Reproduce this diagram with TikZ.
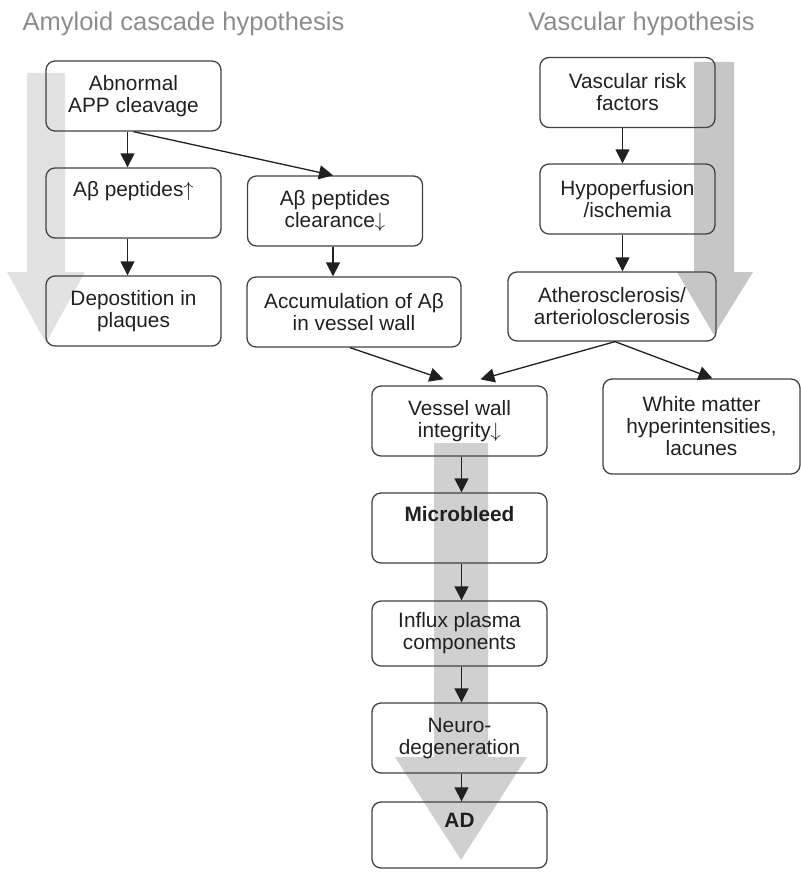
\documentclass[tikz,border=0pt]{standalone}
\usepackage{fontspec}
\setmainfont{Liberation Sans}
\usepackage{xcolor}
\usepackage{tikz}
\usetikzlibrary{positioning,arrows.meta,backgrounds}
\definecolor{cText}{HTML}{231F20}
\definecolor{cTitle}{HTML}{8C8C8C}
\definecolor{cLight}{HTML}{E2E2E3}
\definecolor{cMid}{HTML}{D0D0D1}
\definecolor{cDark}{HTML}{C6C6C7}
\newcommand{\up}{$\uparrow$}
\newcommand{\down}{$\downarrow$}

\begin{document}
\begin{tikzpicture}[
  x=1pt,y=-1pt,
  font=\fontsize{20.8}{22}\selectfont,
  box/.style={draw=cText!85,line width=1.3pt,rounded corners=9pt,minimum width=175pt,
    minimum height=70pt,inner sep=2pt,align=center,text=cText},
  ttl/.style={anchor=base,text=cTitle,font=\fontsize{25.5}{28}\selectfont},
  ar/.style={-{Triangle[length=14pt,width=14pt]},line width=1.3pt,cText}
]
\useasboundingbox (0,0) rectangle (800,872);
% titles
\node[ttl] (tA) at (183.5,31) {Amyloid cascade hypothesis};
\node[ttl] (tV) at (641.5,31) {Vascular hypothesis};
% amyloid side
\node[box] (abn) at (133.5,96) {Abnormal\\APP cleavage};
\node[box] (pep) at (133.5,203) {Aβ peptides\up\\\strut};
\node[box] (dep) at (133.5,311) {Depostition in\\plaques};
\node[box] (clr) at (335,211) {Aβ peptides\\clearance\down};
\node[box,minimum width=214pt] (acc) at (354,312) {Accumulation of Aβ\\in vessel wall};
% vascular side
\node[box] (vrf) at (627.5,92.5) {Vascular risk\\factors};
\node[box] (hyp) at (627.5,199) {Hypoperfusion\\/ischemia\hspace{24pt}};
\node[box,minimum width=208pt,minimum height=69pt] (ath) at (612,306.5) {Atherosclerosis/\\arteriolosclerosis};
\node[box,minimum width=197pt,minimum height=95pt] (wmh) at (701.5,426.5) {White matter\\hyperintensities,\\lacunes};
% common path
\node[box] (vwi) at (459.5,421) {Vessel wall\\integrity\down};
\node[box] (mic) at (459.5,528) {\textbf{Microbleed}\\\strut};
\node[box,minimum height=65pt] (inf) at (459.5,633.5) {Influx plasma\\components};
\node[box] (neu) at (459.5,738) {Neuro-\\degeneration};
\node[box,minimum height=66pt] (ad) at (459.5,835) {\textbf{AD}\\\strut};
% arrows
\draw[ar] ([xshift=-6pt]abn.south) -- ([xshift=-6pt]pep.north);
\draw[ar] ([xshift=-6pt]pep.south) -- ([xshift=-6pt]dep.north);
\draw[ar] (abn.south) -- ([xshift=-2pt]clr.north);
\draw[ar] ([xshift=-2pt]clr.south) -- ([xshift=-2pt]clr.south |- acc.north);
\draw[ar] ([xshift=-4pt]acc.south) -- ([xshift=-16pt,yshift=6pt]vwi.north);
\draw[ar] ([xshift=3pt]ath.south) -- ([xshift=21pt,yshift=6pt]vwi.north);
\draw[ar] ([xshift=3pt]ath.south) -- ([xshift=11pt]wmh.north);
\draw[ar] ([xshift=-5pt]vrf.south) -- ([xshift=-5pt]hyp.north);
\draw[ar] ([xshift=-5pt]hyp.south) -- ([xshift=-5pt]hyp.south |- ath.north);
\draw[ar] ([xshift=2pt]vwi.south) -- ([xshift=2pt]mic.north);
\draw[ar] ([xshift=2pt]mic.south) -- ([xshift=2pt]inf.north);
\draw[ar] ([xshift=2pt]inf.south) -- ([xshift=2pt]neu.north);
\draw[ar] ([xshift=2pt]neu.south) -- ([xshift=2pt]ad.north);
% broad shaded arrows behind the boxes
\begin{scope}[on background layer]
  \fill[cLight] (27,73) -- (65,73) -- (65,272) -- (85,272) -- (46,343) -- (7,272) -- (27,272) -- cycle;
  \fill[cDark] (694,62) -- (734,62) -- (734,272) -- (753,272) -- (714,335) -- (677,272) -- (694,272) -- cycle;
  \fill[cMid] (434,443) -- (488,443) -- (488,757) -- (527,757) -- (461,860) -- (395,757) -- (434,757) -- cycle;
\end{scope}
\end{tikzpicture}
\end{document}
